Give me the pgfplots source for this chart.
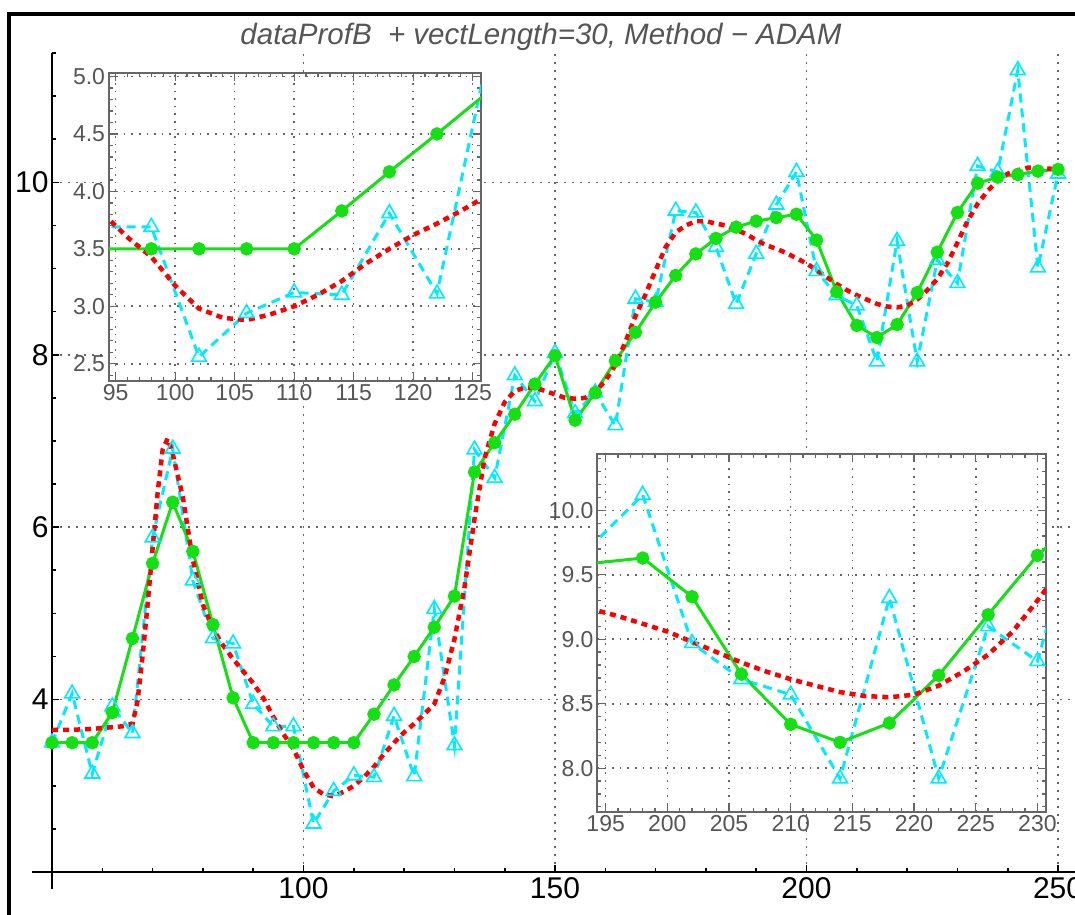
\documentclass[border=0pt]{standalone}
\usepackage{fontspec}
\setmainfont{Liberation Sans}
\usepackage{pgfplots}
\usepackage{pgfplotstable}
\pgfplotsset{compat=1.18}

\definecolor{dgreen}{RGB}{20,225,20}
\definecolor{dcyan}{RGB}{0,235,255}
\definecolor{dred}{RGB}{255,0,0}
\definecolor{lbl}{RGB}{85,85,85}

% raw data (triangles)
\pgfplotstableread{
x y
50 3.50
54 4.07
58 3.14
62 3.92
66 3.61
70 5.88
74 6.91
78 5.38
82 4.71
86 4.65
90 3.95
94 3.69
98 3.69
102 2.56
106 2.94
110 3.12
114 3.10
118 3.81
122 3.11
126 5.05
130 3.47
134 6.90
138 6.57
142 7.76
146 7.46
150 8.02
154 7.32
158 7.56
162 7.18
166 8.65
170 8.61
174 9.67
178 9.65
182 9.25
186 8.59
190 9.17
194 9.74
198 10.12
202 8.97
206 8.69
210 8.57
214 7.92
218 9.32
222 7.92
226 9.10
230 8.83
234 10.19
238 10.12
242 11.30
246 9.01
250 10.10
}\rawdata

% fitted values (dots)
\pgfplotstableread{
x y
50 3.50
54 3.50
58 3.50
62 3.85
66 4.71
70 5.58
74 6.29
78 5.72
82 4.87
86 4.02
90 3.50
94 3.50
98 3.50
102 3.50
106 3.50
110 3.50
114 3.83
118 4.17
122 4.50
126 4.84
130 5.20
134 6.64
138 6.98
142 7.31
146 7.66
150 7.99
154 7.24
158 7.56
162 7.93
166 8.26
170 8.61
174 8.92
178 9.17
182 9.35
186 9.48
190 9.55
194 9.59
198 9.63
202 9.33
206 8.73
210 8.34
214 8.20
218 8.35
222 8.72
226 9.19
230 9.65
234 9.99
238 10.06
242 10.09
246 10.13
250 10.15
}\fitdata

% smooth profile (red dashed)
\pgfplotstableread{
x y
50 3.65
54 3.65
58 3.66
62 3.68
64 3.69
66 3.72
67 3.98
68 4.50
69 5.10
70 5.75
71 6.40
72 6.90
73 7.03
74 6.85
76 6.35
78 5.62
80 5.10
82 4.82
84 4.63
86 4.47
88 4.33
90 4.19
92 4.02
94 3.80
96 3.60
98 3.43
100 3.18
102 2.98
104 2.90
106 2.88
108 2.93
110 3.00
112 3.10
114 3.22
116 3.37
118 3.50
120 3.62
122 3.72
124 3.83
126 3.95
128 4.25
130 4.70
132 5.30
134 6.10
136 6.80
138 7.20
140 7.45
142 7.58
144 7.62
146 7.62
148 7.58
150 7.54
152 7.50
154 7.49
156 7.50
158 7.57
160 7.70
162 7.88
164 8.15
166 8.45
168 8.70
170 8.98
172 9.25
174 9.42
176 9.50
178 9.55
180 9.55
182 9.52
184 9.50
186 9.45
188 9.40
190 9.33
192 9.27
194 9.23
196 9.18
198 9.12
200 9.06
202 8.98
204 8.90
206 8.82
208 8.75
210 8.69
212 8.64
214 8.59
216 8.56
218 8.55
220 8.57
222 8.64
224 8.75
226 8.88
228 9.06
230 9.30
232 9.55
234 9.75
236 9.90
238 10.02
240 10.10
242 10.14
244 10.17
246 10.17
248 10.16
250 10.15
}\smoothdata

\pgfplotsset{
  rawstyle/.style={dcyan, line width=3pt, dash pattern=on 9pt off 6pt,
    mark=triangle, mark size=8.5pt, mark options={solid, line width=1.6pt}},
  fitstyle/.style={dgreen, line width=3pt, mark=*, mark size=5.2pt,
    mark options={solid, fill=dgreen}},
  smoothstyle/.style={dred, line width=4.5pt, dash pattern=on 6pt off 5pt},
  insetstyle/.style={
    scale only axis, clip=true,
    axis background/.style={fill=white},
    axis line style={black!60, line width=2pt},
    tick style={black!60, line width=1.3pt},
    major tick length=8pt, minor tick length=4pt,
    tick align=inside,
    grid=major,
    major grid style={black!60, line width=1.6pt, dash pattern=on 1.6pt off 6pt},
    ticklabel style={font=\fontsize{23}{23}\selectfont, text=lbl},
    /pgf/number format/assume math mode=true,
  },
}

\begin{document}
\begin{tikzpicture}[x=1pt,y=1pt]
\useasboundingbox (0,0) rectangle (1075,914);
\fill[white] (0,0) rectangle (1075,914);

% main plot
\begin{axis}[
  at={(52pt,42pt)}, anchor=origin,
  scale only axis, width=1023.6pt, height=819pt,
  xmin=50, xmax=253.5, ymin=2, ymax=11.5,
  axis lines=left, axis line style={-, line width=2.8pt, black},
  xtick={100,150,200,250}, ytick={4,6,8,10},
  minor xtick={60,70,...,250}, minor ytick={2.5,3,...,11.5},
  tick style={black, line width=1.6pt},
  major tick length=7pt, minor tick length=4pt,
  tick align=inside,
  grid=major,
  major grid style={black!60, line width=1.6pt, dash pattern=on 1.6pt off 6.4pt},
  ticklabel style={font=\fontsize{30}{30}\selectfont},
  xticklabel style={yshift=-2pt},
  /pgf/number format/assume math mode=true,
  clip=false,
]
\draw[line width=2.8pt] (axis cs:46,2) -- (axis cs:50,2);
\draw[line width=2.8pt] (axis cs:50,1.8) -- (axis cs:50,2);
\addplot[rawstyle] table {\rawdata};
\addplot[fitstyle] table {\fitdata};
\addplot[smoothstyle] table {\smoothdata};
\end{axis}

% upper-left inset
\begin{axis}[insetstyle,
  at={(108.5pt,533pt)}, anchor=south west,
  width=372.5pt, height=308pt,
  xmin=94.4, xmax=125.7, ymin=2.35, ymax=5.03,
  xtick={95,100,...,125}, ytick={2.5,3,...,5},
  minor xtick={95,96,...,125}, minor ytick={2.4,2.5,...,5.0},
  yticklabel style={/pgf/number format/.cd, fixed, fixed zerofill, precision=1},
]
\addplot[rawstyle] table {\rawdata};
\addplot[fitstyle] table {\fitdata};
\addplot[smoothstyle] table {\smoothdata};
\end{axis}

% lower-right inset
\begin{axis}[insetstyle,
  at={(597pt,102pt)}, anchor=south west,
  width=449pt, height=358.4pt,
  xmin=194.3, xmax=230.7, ymin=7.66, ymax=10.44,
  xtick={195,200,...,230}, ytick={8,8.5,...,10},
  minor xtick={195,196,...,230}, minor ytick={7.7,7.8,...,10.4},
  yticklabel style={/pgf/number format/.cd, fixed, fixed zerofill, precision=1},
]
\addplot[rawstyle] table {\rawdata};
\addplot[fitstyle] table {\fitdata};
\addplot[smoothstyle] table {\smoothdata};
\end{axis}

\node[font=\fontsize{29.5}{29.5}\selectfont\itshape, text=lbl] at (541,877)
  {dataProfB\ \ + vectLength=30, Method − ADAM};
\draw[line width=4pt] (9,-20) -- (9,900) -- (1100,900);
\end{tikzpicture}
\end{document}
